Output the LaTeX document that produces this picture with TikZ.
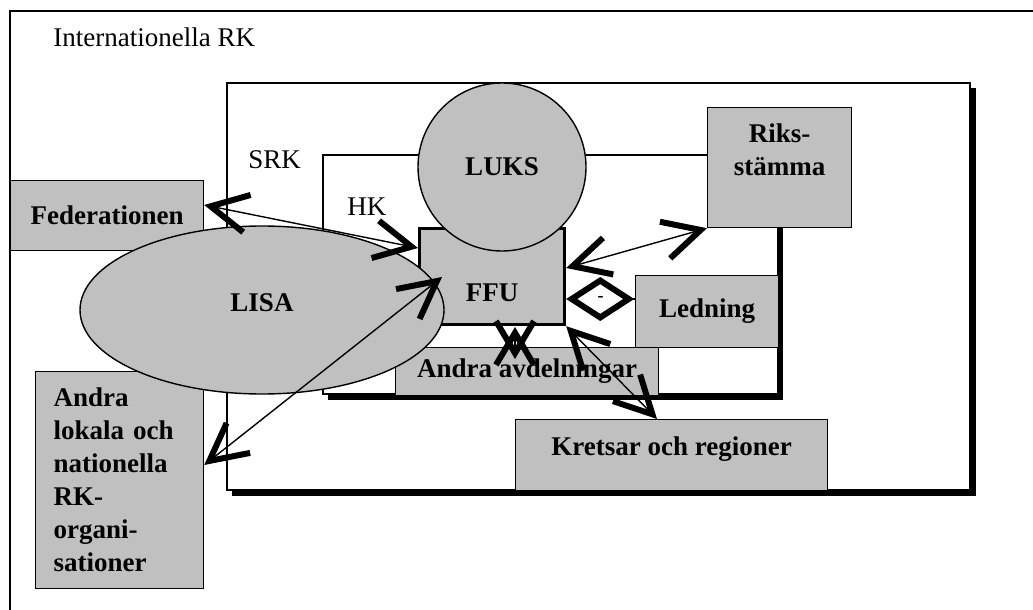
\documentclass[tikz,border=0pt]{standalone}
\usepackage{fontspec}
\setmainfont{Liberation Serif}
\usetikzlibrary{arrows.meta,shapes.geometric}
\definecolor{boxgray}{RGB}{192,192,192}
\tikzset{
  every node/.style={font=\fontsize{13.5}{16.5}\selectfont},
  box/.style={draw, line width=0.6pt, fill=boxgray, inner sep=0pt, anchor=north west,
    font=\fontsize{13.5}{16.5}\selectfont\bfseries},
  blob/.style={draw, line width=0.7pt, fill=boxgray, inner sep=0pt,
    font=\fontsize{13.5}{16.5}\selectfont\bfseries},
  frame/.style={draw, line width=0.6pt, fill=white},
  barb/.tip={Straight Barb[length=18.5pt, width=19pt, line width=3pt]},
  link/.style={line width=0.7pt, {barb}-{barb}}
}
\begin{document}
\begin{tikzpicture}[x=0.5pt, y=-0.5pt]
  \useasboundingbox (0,0) rectangle (1033,610);
  \draw[line width=0.7pt] (10,610) -- (10,11) -- (1033,11);
  \node[anchor=west, inner sep=0pt] (intl) at (53,37) {Internationella RK};

  \fill[black] (232,88) rectangle (976,496);
  \draw[frame] (227,83) rectangle (970,490);
  \node[anchor=west, inner sep=0pt] (srk) at (248,160) {SRK};

  \fill[black] (328,160) rectangle (783,400);
  \draw[frame] (323,155) rectangle (778,394);
  \node[anchor=west, inner sep=0pt] (hk) at (347,207) {HK};

  \node[box, minimum width=72pt, text width=72pt, align=center,
    text height=17.5pt, text depth=42.5pt] (riks) at (707,107) {Riks-\\stämma};
  \node[box, minimum width=71.5pt, minimum height=36pt] (led) at (635,275) {Ledning};
  \node[box, minimum width=131.5pt, minimum height=24pt] (avd) at (395,347) {Andra avdelningar};
  \node[box, minimum width=156pt, text height=18pt, text depth=17.5pt] (kret) at (515,419)
    {Kretsar och regioner};
  \node[box, line width=1.6pt, minimum width=72.5pt, text height=36.5pt, text depth=11.5pt]
    (ffu) at (418,227) {FFU};
  \node[blob, circle, minimum size=84pt] (luks) at (502,167) {LUKS};
  \node[box, minimum width=96.5pt, minimum height=35pt] (fed) at (10,180) {Federationen};
  \node[box, inner xsep=9pt, text width=66pt, align=left, text height=17.5pt, text depth=91pt]
    (lok) at (35,371) {Andra\\lokala och\\nationella\\RK-\\organi-\\sationer};
  \node[blob, ellipse, minimum width=182pt, minimum height=84pt, text depth=7pt]
    (lisa) at (262,310) {LISA};

  \coordinate (ffuin) at (442,277);
  \coordinate (xtop) at (515,327);
  \coordinate (xbot) at (515,359);
  \draw[link] (fed.east |- 0,205) -- (ffu.west |- 0,248);
  \draw[link] (lok.east |- 0,465) -- (ffuin);
  \draw[link] (ffu.east |- 0,268) -- (riks.south west);
  \draw[link] (ffu.south east) -- (657,0 |- kret.north);
  \draw[link, barb/.tip={Straight Barb[length=16pt, width=19pt, line width=3pt]}] (xtop) -- (xbot);
  \draw[line width=0.7pt, -{Diamond[open, length=34pt, width=22pt, line width=3pt]}]
    (led.west |- 0,299) -- (ffu.east |- 0,299)
    node[pos=0.5, inner sep=0pt, font=\small\bfseries] {-};
\end{tikzpicture}
\end{document}
